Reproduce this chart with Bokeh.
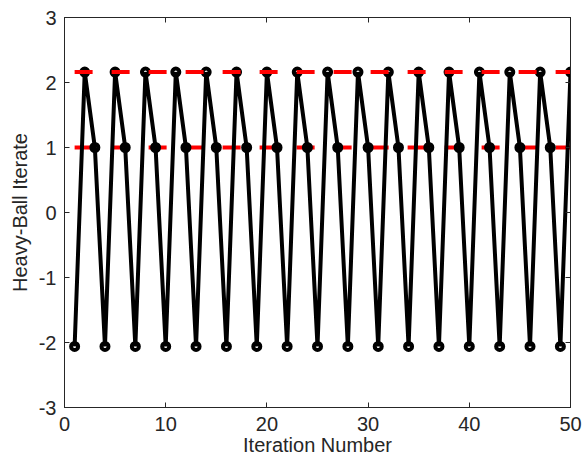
from bokeh.plotting import figure
from bokeh.models import LinearAxis, FixedTicker, Range1d
from bokeh.embed import file_html
from bokeh.resources import INLINE

# ---- data ----
iteration = list(range(1, 51))
iterate = [-2.06, 2.16, 1.00, -2.06, 2.16, 1.00, -2.06, 2.16, 1.00, -2.06,
           2.16, 1.00, -2.06, 2.16, 1.00, -2.06, 2.16, 1.00, -2.06, 2.16,
           1.00, -2.06, 2.16, 1.00, -2.06, 2.16, 1.00, -2.06, 2.16, 1.00,
           -2.06, 2.16, 1.00, -2.06, 2.16, 1.00, -2.06, 2.16, 1.00, -2.06,
           2.16, 1.00, -2.06, 2.16, 1.00, -2.06, 2.16, 1.00, -2.06, 2.16]
level_x = [1, 50]
upper_level = [2.16, 2.16]
lower_level = [1.00, 1.00]
x_ticks = [0, 10, 20, 30, 40, 50]
y_ticks = [-3, -2, -1, 0, 1, 2, 3]
x_title = "Iteration Number"
y_title = "Heavy-Ball Iterate"

AX = "#262626"
FONT = "Liberation Sans"

p = figure(width=584, height=466, x_range=Range1d(0, 50), y_range=Range1d(-3, 3),
           output_backend="svg", toolbar_location=None,
           min_border_left=64, min_border_right=14, min_border_top=17, min_border_bottom=59,
           x_axis_label=x_title, y_axis_label=y_title)
p.grid.visible = False
p.outline_line_color = AX
p.outline_line_width = 1
p.background_fill_color = "white"
p.border_fill_color = "white"


def style(ax, ticks, show_labels=True):
    ax.ticker = FixedTicker(ticks=ticks)
    ax.minor_tick_line_color = None
    ax.major_tick_in = 5
    ax.major_tick_out = 0
    ax.major_tick_line_color = AX
    ax.axis_line_color = AX
    ax.major_label_text_font = FONT
    ax.axis_label_text_font = FONT
    ax.axis_label_text_color = AX
    ax.axis_label_text_font_style = "normal"
    ax.axis_label_text_font_size = "20px"
    if show_labels:
        ax.major_label_text_font_size = "20px"
        ax.major_label_text_color = AX
        ax.major_label_overrides = {t: str(t) for t in ticks}
    else:
        ax.major_label_text_font_size = "1px"
        ax.major_label_text_color = None
        ax.major_label_standoff = 0


style(p.xaxis[0], x_ticks)
style(p.yaxis[0], y_ticks)
p.xaxis[0].major_label_standoff = 9
p.xaxis[0].axis_label_standoff = 0
p.yaxis[0].major_label_standoff = 8
p.yaxis[0].axis_label_standoff = 5

top = LinearAxis()
style(top, x_ticks, False)
p.add_layout(top, "above")
right = LinearAxis()
style(right, y_ticks, False)
p.add_layout(right, "right")

p.line(level_x, lower_level, line_color="red", line_width=4, line_dash="18 19")
p.line(iteration, iterate, line_color="black", line_width=4)
p.scatter(iteration, iterate, marker="circle", size=7, fill_alpha=0,
          line_color="black", line_width=4)
p.line(level_x, upper_level, line_color="red", line_width=4, line_dash="18 19")

open("out.html", "w").write(file_html(p, INLINE))
